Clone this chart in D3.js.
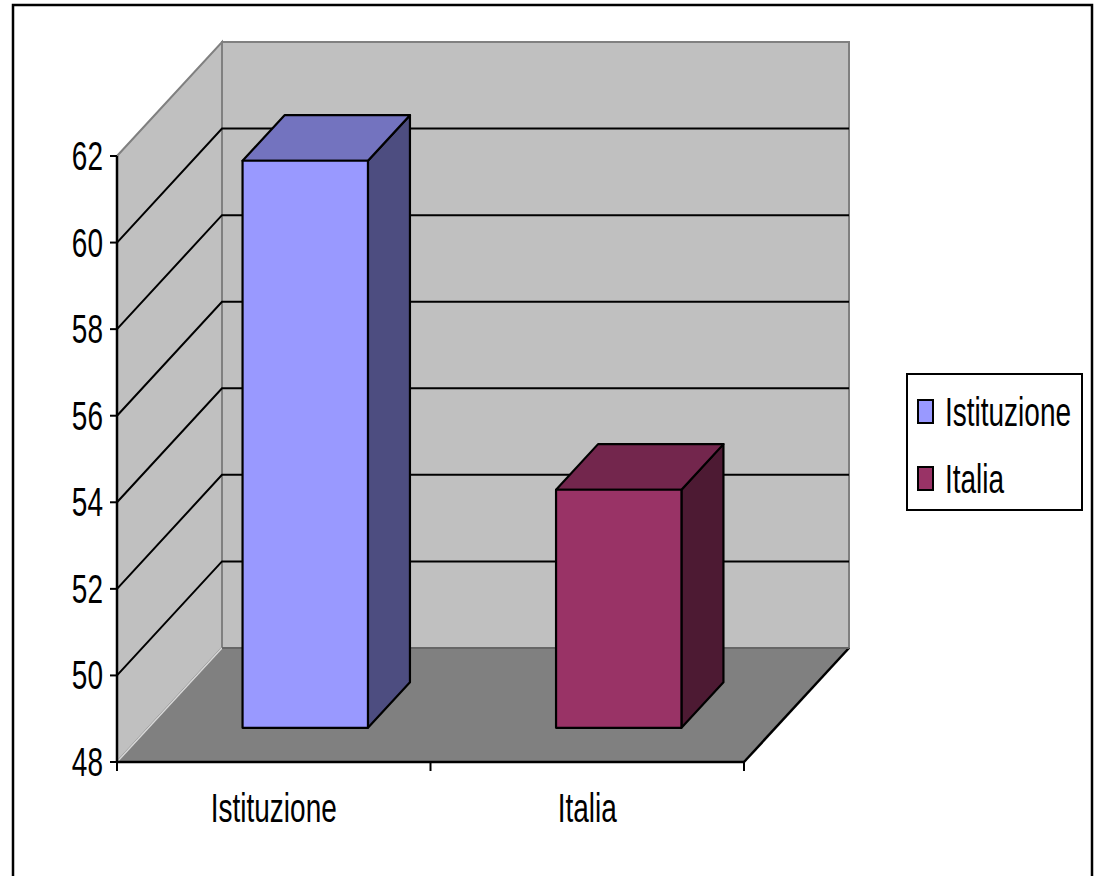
<!DOCTYPE html>
<html>
<head>
<meta charset="utf-8">
<script src="https://cdn.jsdelivr.net/npm/d3@7"></script>
<style>
  body { margin: 0; background: #fff; }
  svg text { font-family: "Liberation Sans", Arial, sans-serif; font-size: 40px; fill: #000; }
</style>
</head>
<body>
<svg id="chart" width="1099" height="876"></svg>
<script>
// data
const categories = ['Istituzione', 'Italia'];
const values = [61.1, 53.5];
const yTicks = [48, 50, 52, 54, 56, 58, 60, 62];

// palette: front, top, side
const fronts = ['#9999ff', '#993366'];
const tops = ['#7373bf', '#73264d'];
const sides = ['#4d4d80', '#4d1a33'];

const svg = d3.select('#chart');

// oblique depth offset of the floor / back wall
const DX = 105, DY = 114;
const f0 = 0.3, f1 = 0.7;   // bar front and back depth

xScale = d3.scaleBand()
    .domain(categories)
    .range([117, 744])
    .paddingInner(0.6)
    .paddingOuter(0.3);

yScale = d3.scaleLinear()
    .domain([48, 62])
    .range([762, 156]);

const xFull = d3.scalePoint().domain(categories).range([117, 744]);
const x0 = 117, x1 = 744;
const yMin = yScale(48), yMax = yScale(62);

const pts = a => a.map(p => p.join(',')).join(' ');

// outer border
svg.append('rect')
    .attr('x', 13).attr('y', 5)
    .attr('width', 1079).attr('height', 890)
    .attr('fill', 'none').attr('stroke', '#000').attr('stroke-width', 2.5);

// back wall
svg.append('polygon')
    .attr('points', pts([[x0 + DX, yMax - DY], [x1 + DX, yMax - DY], [x1 + DX, yMin - DY], [x0 + DX, yMin - DY]]))
    .attr('fill', '#c0c0c0').attr('stroke', '#808080').attr('stroke-width', 2);

// left wall
svg.append('polygon')
    .attr('points', pts([[x0, yMax], [x0 + DX, yMax - DY], [x0 + DX, yMin - DY], [x0, yMin]]))
    .attr('fill', '#c0c0c0').attr('stroke', '#808080').attr('stroke-width', 2);

// floor
svg.append('polygon')
    .attr('points', pts([[x0, yMin], [x1, yMin], [x1 + DX, yMin - DY], [x0 + DX, yMin - DY]]))
    .attr('fill', '#808080');
svg.append('line')
    .attr('x1', x0).attr('y1', yMin).attr('x2', x0 + DX).attr('y2', yMin - DY)
    .attr('stroke', '#d8d8d8').attr('stroke-width', 1.5);
svg.append('line')
    .attr('x1', x1).attr('y1', yMin).attr('x2', x1 + DX).attr('y2', yMin - DY)
    .attr('stroke', '#000').attr('stroke-width', 2.5);
svg.append('line')
    .attr('x1', x0 + DX).attr('y1', yMin - DY).attr('x2', x1 + DX).attr('y2', yMin - DY)
    .attr('stroke', '#666').attr('stroke-width', 2);

// gridlines on left wall and back wall
const inner = yTicks.filter(t => t > 48 && t < 62);
svg.selectAll('.grid')
    .data(inner)
    .enter()
    .append('polyline')
    .attr('class', 'grid')
    .attr('points', d => pts([[x0, yScale(d)], [x0 + DX, yScale(d) - DY], [x1 + DX, yScale(d) - DY]]))
    .attr('fill', 'none').attr('stroke', '#000').attr('stroke-width', 2);

// bars
categories.forEach((c, i) => {
    const bx = xScale(c), bw = xScale.bandwidth();
    const yt = yScale(values[i]), yb = yScale(48);
    const P = (x, y, f) => [x + f * DX, y - f * DY];
    const g = svg.append('g')
        .attr('stroke', '#000').attr('stroke-width', 2.2).attr('stroke-linejoin', 'round');
    // side
    g.append('polygon')
        .attr('points', pts([P(bx + bw, yt, f0), P(bx + bw, yt, f1), P(bx + bw, yb, f1), P(bx + bw, yb, f0)]))
        .attr('fill', sides[i]);
    // top
    g.append('polygon')
        .attr('points', pts([P(bx, yt, f0), P(bx + bw, yt, f0), P(bx + bw, yt, f1), P(bx, yt, f1)]))
        .attr('fill', tops[i]);
    // front
    g.append('polygon')
        .attr('points', pts([P(bx, yt, f0), P(bx + bw, yt, f0), P(bx + bw, yb, f0), P(bx, yb, f0)]))
        .attr('fill', fronts[i]);
});

// y axis
svg.append('line')
    .attr('x1', x0).attr('y1', yMax).attr('x2', x0).attr('y2', yMin)
    .attr('stroke', '#000').attr('stroke-width', 2.5);
svg.selectAll('.ytick')
    .data(yTicks)
    .enter()
    .append('line')
    .attr('x1', x0 - 7).attr('x2', x0)
    .attr('y1', d => yScale(d)).attr('y2', d => yScale(d))
    .attr('stroke', '#000').attr('stroke-width', 2);
svg.selectAll('.ylab')
    .data(yTicks)
    .enter()
    .append('text')
    .attr('text-anchor', 'end')
    .attr('transform', d => `translate(${x0 - 14},${yScale(d) + 14}) scale(0.7,1)`)
    .text(d => d);

// x axis
svg.append('line')
    .attr('x1', x0).attr('y1', yMin).attr('x2', x1).attr('y2', yMin)
    .attr('stroke', '#000').attr('stroke-width', 2.5);
const step = xScale.step();
svg.selectAll('.xtick')
    .data(d3.range(categories.length + 1))
    .enter()
    .append('line')
    .attr('x1', d => x0 + d * step).attr('x2', d => x0 + d * step)
    .attr('y1', yMin).attr('y2', yMin + 9)
    .attr('stroke', '#000').attr('stroke-width', 2);
svg.selectAll('.xlab')
    .data(categories)
    .enter()
    .append('text')
    .attr('text-anchor', 'middle')
    .attr('transform', d => `translate(${xScale(d) + xScale.bandwidth() / 2},822) scale(0.7,1)`)
    .text(d => d);

// legend
const lg = svg.append('g');
lg.append('rect')
    .attr('x', 907).attr('y', 374).attr('width', 175).attr('height', 136)
    .attr('fill', '#fff').attr('stroke', '#000').attr('stroke-width', 2);
categories.forEach((c, i) => {
    lg.append('rect')
        .attr('x', 918).attr('y', 400 + i * 67).attr('width', 15).attr('height', 23)
        .attr('fill', fronts[i]).attr('stroke', '#000').attr('stroke-width', 2);
    lg.append('text')
        .attr('transform', `translate(945,${426 + i * 67}) scale(0.7,1)`)
        .text(c);
});
</script>
</body>
</html>
